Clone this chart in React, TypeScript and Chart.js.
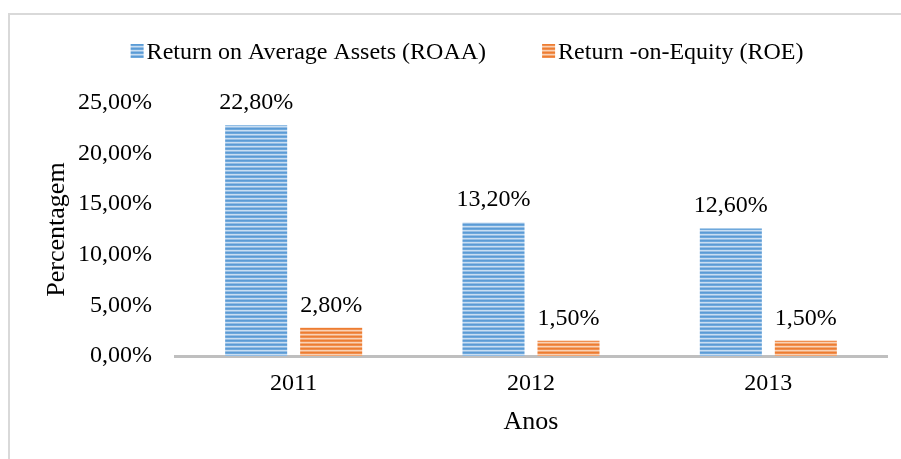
import React, { useEffect, useRef } from "react";
import { Chart, registerables } from "chart.js";
Chart.register(...registerables);

const categories = ["2011", "2012", "2013"];
const roaaValues = [22.8, 13.2, 12.6];
const roeValues = [2.8, 1.5, 1.5];
const seriesNames = ["Return on Average Assets (ROAA)", "Return -on-Equity (ROE)"];
const yTicks = [0, 5, 10, 15, 20, 25];
const xTitle = "Anos";
const yTitle = "Percentagem";

const FONT = '"Liberation Serif", "Times New Roman", serif';
const FS = 24;
const TFS = 26;
const blueStripes = ["#5b9bd5", "#6ea8dc", "#c9def2", "#94bde4"];
const orangeStripes = ["#ed7d31", "#f08f50", "#f9d2b6", "#f3a875"];

function fmt(v: number) {
  return v.toFixed(2).replace(".", ",") + "%";
}

function makePattern(ctx: CanvasRenderingContext2D, colors: string[]) {
  const c = document.createElement("canvas");
  c.width = 4;
  c.height = colors.length;
  const cx = c.getContext("2d")!;
  colors.forEach((col, i) => {
    cx.fillStyle = col;
    cx.fillRect(0, i, 4, 1);
  });
  return ctx.createPattern(c, "repeat")!;
}

export default function App() {
  const ref = useRef<HTMLCanvasElement>(null);
  useEffect(() => {
    const canvas = ref.current!;
    const ctx = canvas.getContext("2d")!;
    const bluePat = makePattern(ctx, blueStripes);
    const orangePat = makePattern(ctx, orangeStripes);
    const pats = [bluePat, orangePat];

    const framePlugin = {
      id: "frame",
      beforeDraw(chart: any) {
        const c = chart.ctx;
        c.save();
        c.fillStyle = "#d9d9d9";
        c.fillRect(8, 13, 2, chart.height);
        c.fillRect(8, 13, chart.width, 2);
        c.restore();
      },
    };

    const labelPlugin = {
      id: "valueLabels",
      afterDatasetsDraw(chart: any) {
        const c = chart.ctx;
        c.save();
        c.font = `${FS}px ${FONT}`;
        c.fillStyle = "#000";
        c.textAlign = "center";
        c.textBaseline = "alphabetic";
        chart.data.datasets.forEach((ds: any, di: number) => {
          const meta = chart.getDatasetMeta(di);
          meta.data.forEach((el: any, i: number) => {
            c.fillText(fmt(ds.data[i]), el.x, el.y - 16);
          });
        });
        c.restore();
      },
    };

    const legendPlugin = {
      id: "customLegend",
      afterDraw(chart: any) {
        const c = chart.ctx;
        c.save();
        c.font = `${FS}px ${FONT}`;
        c.textBaseline = "alphabetic";
        c.textAlign = "left";
        const box = 13, boxH = 14, gap = 3, itemGap = 56;
        const widths = seriesNames.map((n) => c.measureText(n).width);
        const total = widths.reduce((a, w) => a + box + gap + w, 0) + itemGap * (seriesNames.length - 1);
        let x = 467 - total / 2;
        const cy = 51;
        seriesNames.forEach((n, i) => {
          c.fillStyle = pats[i];
          c.fillRect(x, cy - boxH / 2, box, boxH);
          x += box + gap;
          c.fillStyle = "#000";
          c.fillText(n, x, cy + 8);
          x += widths[i] + itemGap;
        });
        c.restore();
      },
    };

    const chart = new Chart(canvas, {
      type: "bar",
      data: {
        labels: categories,
        datasets: [
          { label: seriesNames[0], data: roaaValues, backgroundColor: bluePat, borderWidth: 0 },
          { label: seriesNames[1], data: roeValues, backgroundColor: orangePat, borderWidth: 0 },
        ],
      },
      options: {
        responsive: false,
        devicePixelRatio: 1,
        animation: false,
        categoryPercentage: 0.632,
        barPercentage: 0.827,
        layout: { padding: { left: 38, top: 103, right: 14, bottom: 18 } },
        plugins: {
          legend: { display: false },
          tooltip: { enabled: false },
        },
        scales: {
          x: {
            grid: { display: false, drawTicks: false },
            border: { display: true, color: "#bfbfbf", width: 3 },
            ticks: { color: "#000", padding: 13, font: { family: FONT, size: FS } },
            title: {
              display: true,
              text: xTitle,
              color: "#000",
              font: { family: FONT, size: TFS },
              padding: { top: -4, bottom: 3 },
            },
          },
          y: {
            min: 0,
            max: 25,
            afterBuildTicks: (s: any) => {
              s.ticks = yTicks.map((v) => ({ value: v }));
            },
            afterFit: (s: any) => {
              s.width = 137;
            },
            grid: { display: false, drawTicks: false },
            border: { display: false },
            ticks: {
              color: "#000",
              padding: 23,
              font: { family: FONT, size: FS },
              callback: (v: any) => fmt(Number(v)),
            },
            title: {
              display: true,
              text: yTitle,
              color: "#000",
              font: { family: FONT, size: TFS },
              padding: { top: 4, bottom: 4 },
            },
          },
        },
      },
      plugins: [framePlugin, labelPlugin, legendPlugin],
    });
    return () => chart.destroy();
  }, []);

  return (
    <div style={{ position: "absolute", left: 0, top: 0, width: 901, height: 459 }}>
      <canvas ref={ref} width={901} height={459} style={{ display: "block" }} />
    </div>
  );
}
